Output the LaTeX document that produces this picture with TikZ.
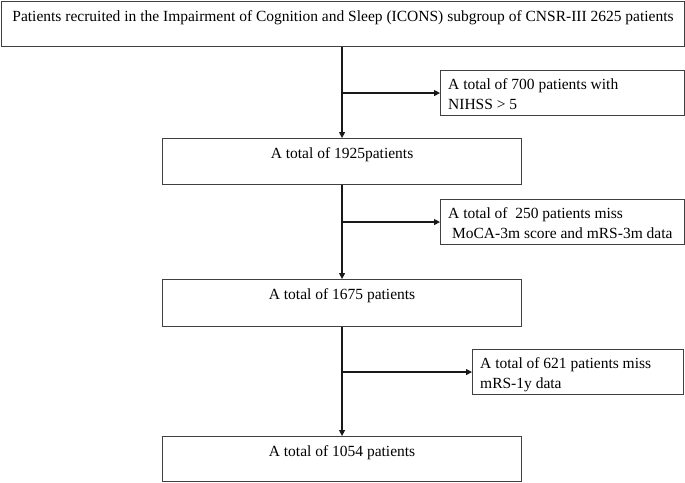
\documentclass[tikz,border=0pt]{standalone}
\usepackage{fontspec}
\setmainfont{Liberation Serif}
\usetikzlibrary{arrows.meta}
\begin{document}
\begin{tikzpicture}[x=1pt,y=1pt,
  box/.style={draw=black!75, line width=1.1pt, inner sep=0pt, anchor=north west},
  txt/.style={inner sep=0pt, font=\fontsize{15.5}{20}\selectfont},
  sidetxt/.style={txt, anchor=north west, align=left},
  flow/.style={draw=black!90, line width=1.2pt, -{Triangle[length=6pt,width=6pt]}}]
\path[use as bounding box] (0,0) rectangle (685,-482);
% boxes
\node[box, minimum width=683, minimum height=45] (top) at (1,-1) {};
\node[box, minimum width=359, minimum height=46] (b1) at (162,-138) {};
\node[box, minimum width=359, minimum height=47] (b2) at (162,-279) {};
\node[box, minimum width=359, minimum height=45] (b3) at (162,-436) {};
\node[box, minimum width=244, minimum height=45] (s1) at (440,-70) {};
\node[box, minimum width=244, minimum height=45] (s2) at (440,-199) {};
\node[box, minimum width=211, minimum height=45] (s3) at (472,-349) {};
% texts
\node[txt, anchor=base] (ttop) at ([yshift=-20]top.north) {Patients recruited in the Impairment of Cognition and Sleep (ICONS) subgroup of CNSR-III 2625 patients};
\node[txt, anchor=base] (tb1) at ([yshift=-20.5]b1.north) {A total of 1925patients};
\node[txt, anchor=base] (tb2) at ([yshift=-20.5]b2.north) {A total of 1675 patients};
\node[txt, anchor=base] (tb3) at ([yshift=-20.5]b3.north) {A total of 1054 patients};
\node[sidetxt] (ts1) at ([xshift=8,yshift=-8.6]s1.north west) {A total of 700 patients with\\NIHSS \textgreater{} 5};
\node[sidetxt] (ts2) at ([xshift=8,yshift=-8.6]s2.north west) {A total of \ 250 patients miss\\\hspace*{3.9pt}MoCA-3m score and mRS-3m data};
\node[sidetxt] (ts3) at ([xshift=8,yshift=-8.6]s3.north west) {A total of 621 patients miss\\mRS-1y data};
% connectors
\draw[flow] (b1.north |- top.south) -- (b1.north);
\draw[flow] (b2.north |- b1.south) -- (b2.north);
\draw[flow] (b3.north |- b2.south) -- (b3.north);
\coordinate (j1) at (b1.north |- s1.west);
\coordinate (j2) at (b2.north |- s2.west);
\coordinate (j3) at (b3.north |- s3.west);
\draw[flow] (j1) -- (s1.west);
\draw[flow] (j2) -- (s2.west);
\draw[flow] (j3) -- (s3.west);
\end{tikzpicture}
\end{document}
